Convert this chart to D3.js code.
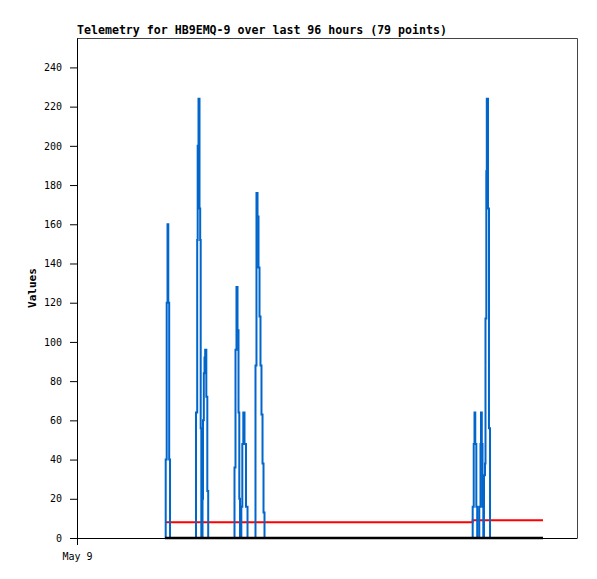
<!DOCTYPE html>
<html>
<head>
<meta charset="utf-8">
<script src="https://cdn.jsdelivr.net/npm/d3@7"></script>
<style>
  html, body { margin: 0; padding: 0; background: #fff; }
  svg { display: block; }
  text { font-family: "DejaVu Sans Mono", monospace; }
</style>
</head>
<body>
<svg id="chart" width="597" height="579"></svg>
<script>
// ---- Data (hours since May 9 00:00) ----
const title = "Telemetry for HB9EMQ-9 over last 96 hours (79 points)";
const yLabel = "Values";
const xTickLabels = ["May 9"];
const xTickHours = [0];
const yTicks = [0, 20, 40, 60, 80, 100, 120, 140, 160, 180, 200, 220, 240];

const blueHours = [
  16.90, 17.03, 17.22, 17.38, 17.53, 17.70, 17.86,
  22.85, 23.08, 23.17, 23.33, 23.52, 23.65, 23.75, 23.87,
  24.10, 24.19, 24.35, 24.48, 24.61, 24.83, 25.02, 25.19,
  30.24, 30.43, 30.62, 30.82, 31.01, 31.16, 31.30,
  31.55, 31.74, 31.93, 32.16, 32.45, 32.74,
  34.27, 34.46, 34.66, 34.85, 35.04, 35.23, 35.42, 35.62, 35.81, 36.00,
  75.97, 76.17, 76.32, 76.47, 76.67, 76.84,
  77.24, 77.47, 77.57, 77.72, 77.86, 78.01,
  78.14, 78.34, 78.43, 78.59, 78.68, 78.91, 79.10, 79.30,
  89.47
];
const blueValues = [
  0, 40, 120, 160, 120, 40, 0,
  64, 152, 200, 224, 168, 152, 56, 0,
  20, 60, 84, 92, 96, 72, 24, 0,
  36, 96, 128, 106, 64, 20, 0,
  16, 48, 64, 48, 16, 0,
  88, 176, 164, 138, 113, 88, 63, 38, 13, 0,
  16, 48, 64, 48, 16, 0,
  16, 48, 64, 48, 16, 0,
  32, 38, 112, 187, 224, 168, 56, 0,
  0
];
const redHours = [16.90, 75.97, 89.47];
const redValues = [8, 9, 9];
const blackHours = [16.90, 89.47];
const blackValues = [0, 0];

// ---- Layout ----
const svg = d3.select("#chart");
const mLeft = 77, mRight = 577, mTop = 38, mBottom = 538;
const t0 = new Date(2024, 4, 9, 0, 0, 0);
const hToDate = h => new Date(t0.getTime() + h * 3600 * 1000);

const x = d3.scaleTime()
  .domain([t0, hToDate(96)])
  .range([mLeft, mRight]);
const y = d3.scaleLinear().domain([0, 255]).range([mBottom, mTop]);

// frame (top & right)
svg.append("path")
  .attr("d", `M${mLeft},${mTop + 0.5}H${mRight + 0.5}V${mBottom}`)
  .attr("fill", "none").attr("stroke", "#444").attr("stroke-width", 1);

// y axis
const yAxis = d3.axisLeft(y).tickValues(yTicks).tickSize(7).tickPadding(8).tickSizeOuter(0);
const gy = svg.append("g").attr("transform", `translate(${mLeft},0)`).call(yAxis);
gy.select(".domain").attr("stroke", "#000");
gy.selectAll(".tick line").attr("stroke", "#000");
gy.selectAll(".tick text").attr("font-family", "DejaVu Sans Mono").attr("font-size", 10).attr("fill", "#000");

// x axis
const xAxis = d3.axisBottom(x)
  .tickValues(xTickHours.map(hToDate))
  .tickFormat((d, i) => xTickLabels[i])
  .tickSize(7).tickPadding(8).tickSizeOuter(0);
const gx = svg.append("g").attr("transform", `translate(0,${mBottom})`).call(xAxis);
gx.select(".domain").attr("stroke", "#000");
gx.selectAll(".tick line").attr("stroke", "#000");
gx.selectAll(".tick text").attr("font-family", "DejaVu Sans Mono").attr("font-size", 10).attr("fill", "#000");

// title
svg.append("text")
  .attr("x", mLeft).attr("y", 34)
  .attr("font-family", "DejaVu Sans Mono").attr("font-weight", "bold")
  .attr("font-size", 11.6).attr("fill", "#000")
  .text(title);

// y label
svg.append("text")
  .attr("transform", `translate(36,288) rotate(-90)`)
  .attr("text-anchor", "middle")
  .attr("font-family", "DejaVu Sans Mono").attr("font-weight", "bold")
  .attr("font-size", 11).attr("fill", "#000")
  .text(yLabel);

// series
const line = d3.line()
  .x(d => x(hToDate(d[0])))
  .y(d => y(d[1]))
  .curve(d3.curveStepAfter);

const series = [
  { h: redHours, v: redValues, color: "#ff0000", w: 2 },
  { h: blueHours, v: blueValues, color: "#0066cc", w: 2 },
  { h: blackHours, v: blackValues, color: "#000000", w: 2.5 }
];
series.forEach(s => {
  svg.append("path")
    .datum(s.h.map((h, i) => [h, s.v[i]]))
    .attr("d", line)
    .attr("fill", "none")
    .attr("stroke", s.color)
    .attr("stroke-width", s.w);
});
</script>
</body>
</html>
